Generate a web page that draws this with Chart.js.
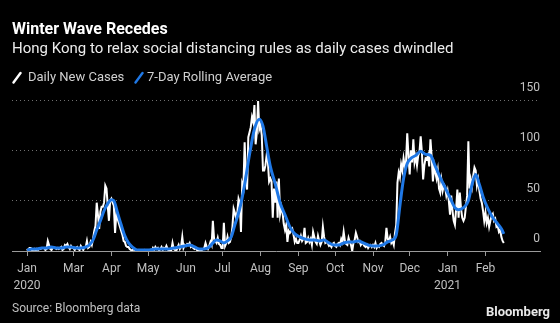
<!DOCTYPE html>
<html><head><meta charset="utf-8">
<script src="https://cdn.jsdelivr.net/npm/chart.js@4.4.1/dist/chart.umd.min.js"></script>
<style>
html,body{margin:0;padding:0;background:#000;}
#wrap{position:relative;width:560px;height:323px;background:#000;overflow:hidden;font-family:Roboto,"Noto Sans",sans-serif;}
#c{position:absolute;left:0;top:0;}
.t{position:absolute;white-space:nowrap;line-height:1;}
</style></head><body>
<div id="wrap">
<canvas id="c" width="560" height="323"></canvas>
<div class="t" style="left:12px;top:21px;font-size:16px;font-weight:700;color:#fff">Winter Wave Recedes</div>
<div class="t" style="left:12px;top:41px;font-size:15px;color:#ececec">Hong Kong to relax social distancing rules as daily cases dwindled</div>
<svg style="position:absolute;left:12px;top:71px" width="10" height="13"><line x1="1.5" y1="11.5" x2="8.5" y2="2" stroke="#ffffff" stroke-width="2.4" stroke-linecap="round"/></svg>
<div class="t" style="left:28px;top:70px;font-size:13px;color:#d0d0d0">Daily New Cases</div>
<svg style="position:absolute;left:134px;top:71px" width="10" height="13"><line x1="1.5" y1="11.5" x2="8.5" y2="2" stroke="#1f78e6" stroke-width="2.4" stroke-linecap="round"/></svg>
<div class="t" style="left:147px;top:70px;font-size:13px;color:#d0d0d0">7-Day Rolling Average</div>
<div class="t" style="left:12px;top:302px;font-size:12px;color:#c0c0c0">Source: Bloomberg data</div>
<div class="t" style="right:10px;top:305px;font-size:13px;font-weight:700;color:#e8e8e8">Bloomberg</div>
</div>
<script>
// Day index 0 = 2020-01-23 (first reported cases)
const startDate = '2020-01-23';
const dailyNewCases = [
  2,0,3,3,0,1,2,0,2,1, 2,2,3,3,3,1,2,10,6,2, 1,3,3,3,2,3,2,3,4,1, 2,6,5,7,4,2,5,3,
  3,1,3,4,2,1,5,3,1,4, 4,10,3,
  4,9,6,12,20,25,48,36,22,39, 44,44,48,65,62,45,30,50,52,48, 45,18,36,32,28,24,20,16,10,9,
  5,4,4,2,1,0,2,1,0,1, 1,0,0,0,0,1,0,0,
  0,0,1,0,3,1,4,2,3,0, 2,4,1,3,2,5,2,0,1,1, 8,2,1,0,3,6,2,4,14,3,6,
  5,7,6,8,4,5,3,2,3,1, 1,0,0,1,2,3,8,4,2,5, 9,6,30,12,10,8,13,7,6,3,
  3,28,5,8,14,8,9,14,24,42, 38,32,38,52,48,19,67,63,108,73, 61,113,118,123,133,128,145,106,118,149,121,
  125,115,80,80,85,95,89,69,72,69, 33,62,48,69,33,72,37,44,38,27, 21,26,9,20,18,20,22,16,9,12,8,
  8,11,15,10,12,23,8,9,13,9, 12,6,19,14,9,7,15,10,6,9, 24,14,8,9,8,5,6,4,7,8,
  5,4,7,8,6,12,9,19,10,7, 6,13,9,6,0,8,11,18,14,9, 10,6,8,7,5,4,6,3,5,6,4,
  6,4,8,3,5,4,7,8,6,5, 9,23,12,10,14,8,10,6,18,
  26,68,78,73,86,80,92,84,88, 117,95,76,100,88,111,88,94,85,95, 98,114,98,71,85,92,91,95,84,111,
  93,69,85,78,72,80,62,58,70,60, 66,64,55,60,50,36,55,40,30,26,
  42,61,33,58,42,33,30,33,44,55, 109,62,71,64,75,83,80,65,71,60,
  52,48,40,30,38,28,33,24,30,35, 37,30,32,24,25,19,21,14,10,8
];
const avgDays = [0,4,8,12,16,20,24,28,32,36,40,44,48,51,54,57,60,63,66,69,71,74,77,80,83,86,90,95,100,105,110,115,120,125,129,133,137,141,145,149,152,155,158,161,164,167,170,174,178,182,186,190,193,196,199,203,207,211,215,219,223,227,231,235,239,243,247,251,255,259,263,267,271,275,279,283,287,291,295,299,302,305,308,311,314,318,322,326,330,334,338,342,346,350,353,357,361,364,367,370,373,377,381,385,388,390];
const rollingAverage = [1,2,2,3,3,4,3,3,4,4,3,3,4,6,11,21,30,40,47,51,50,38,26,15,8,4,1,1,1,2,2,2,3,4,5,6,4,2,2,4,8,11,10,8,10,14,26,42,66,96,121,131,124,104,84,67,48,36,24,17,14,12,11,11,10,11,8,6,6,8,9,9,10,8,6,5,5,6,9,11,16,45,72,87,92,95,99,96,95,84,73,63,53,43,41,43,50,66,76,66,54,42,33,27,22,17];
// tick positions (day index) and labels
const tickDays = [0,38,69,99,130,160,191,222,252,283,313,344,375];
const tickMonths = ['Jan','Mar','Apr','May','Jun','Jul','Aug','Sep','Oct','Nov','Dec','Jan','Feb'];
const tickYears = ['2020','','','','','','','','','','','2021',''];
const yTicks = [0,50,100,150];

const dailyPts = dailyNewCases.map((v,i)=>({x:i,y:v}));
const avgPts = avgDays.map((d,i)=>({x:d,y:rollingAverage[i]}));

new Chart(document.getElementById('c'), {
  type:'line',
  data:{datasets:[
    {label:'Daily New Cases', data:dailyPts, borderColor:'#ffffff', borderWidth:2, pointRadius:0, tension:0, order:2},
    {label:'7-Day Rolling Average', data:avgPts, borderColor:'#1f78e6', borderWidth:3, pointRadius:0, cubicInterpolationMode:'monotone', order:1}
  ]},
  options:{
    responsive:false, animation:false, devicePixelRatio:1,
    layout:{padding:{left:12,right:20,top:100,bottom:0}},
    plugins:{legend:{display:false}, title:{display:false}, tooltip:{enabled:false}},
    scales:{
      x:{type:'linear', min:-12.3, max:419.6,
        afterBuildTicks:s=>{ s.ticks = tickDays.map(v=>({value:v})); },
        afterFit:s=>{ s.height = 72; },
        ticks:{autoSkip:false, maxRotation:0, minRotation:0, padding:5, color:'#c0c0c0',
          font:{family:'Roboto', size:12, lineHeight:1.4},
          callback:(v,i)=> tickYears[i] ? [tickMonths[i], tickYears[i]] : tickMonths[i]},
        grid:{display:true, drawOnChartArea:false, drawTicks:true, tickLength:5, tickColor:'#9a9a9a', color:'#9a9a9a'},
        border:{display:true, color:'#9a9a9a', width:1}
      },
      y:{position:'right', min:0, max:150,
        afterBuildTicks:s=>{ s.ticks = yTicks.map(v=>({value:v})); },
        afterFit:s=>{ s.width = 0; },
        ticks:{mirror:true, padding:0, labelOffset:-12, color:'#c0c0c0', font:{family:'Roboto', size:12}},
        grid:{drawTicks:false, lineWidth:1, color:c=> (c.tick && c.tick.value===0) ? 'rgba(0,0,0,0)' : '#707070'},
        border:{display:false, dash:[1,3]}
      }
    }
  }
});
</script>
</body></html>
